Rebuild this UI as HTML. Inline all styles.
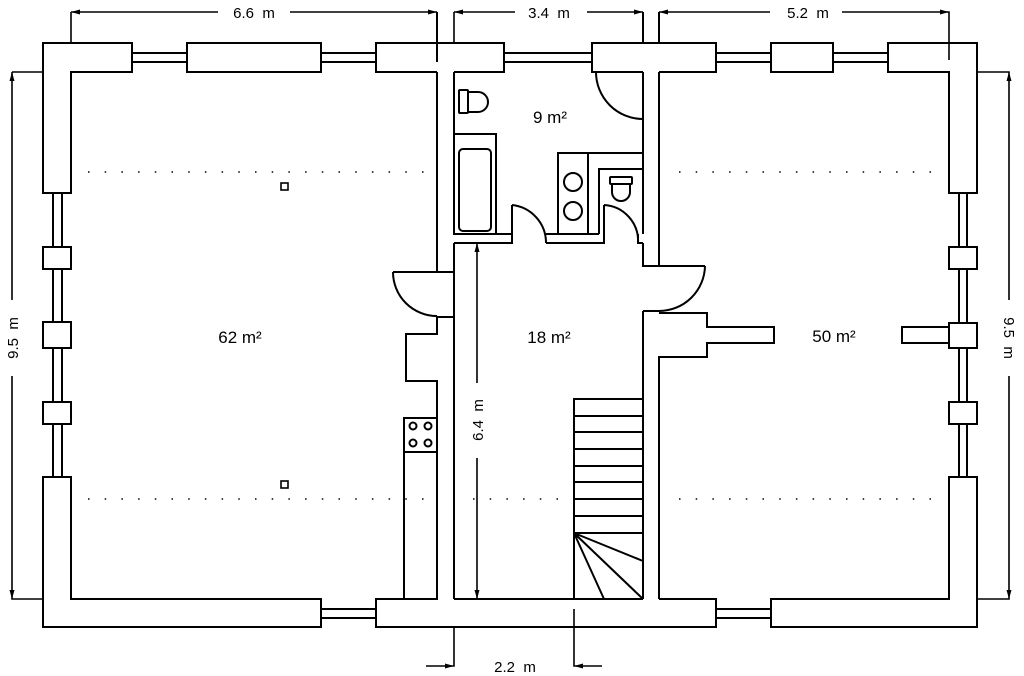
<!DOCTYPE html>
<html><head><meta charset="utf-8"><style>
html,body{margin:0;padding:0;background:#fff;}
svg{display:block;}
text{font-family:"Liberation Sans",sans-serif;fill:#000;white-space:pre;}
</style></head><body>
<svg width="1024" height="676" viewBox="0 0 1024 676" xmlns="http://www.w3.org/2000/svg">
<g fill="none" stroke="#000" stroke-width="2" stroke-linejoin="miter">
<path d="M43,43 H132 V72 H71 V193 H43 Z"/>
<rect x="187" y="43" width="134" height="29"/>
<path d="M437,72 H376 V43 H504 V72 H454"/>
<path d="M643,72 H592 V43 H716 V72 H659"/>
<rect x="771" y="43" width="62" height="29"/>
<path d="M888,43 H977 V193 H949 V72 H888 Z"/>
<path d="M132,53 H187 M132,62 H187 M321,53 H376 M321,62 H376 M504,53 H592 M504,62 H592 M716,53 H771 M716,62 H771 M833,53 H888 M833,62 H888"/>
<rect x="43" y="247" width="28" height="22"/>
<rect x="43" y="322" width="28" height="26"/>
<rect x="43" y="402" width="28" height="22"/>
<path d="M53,193 V247 M62,193 V247 M53,269 V322 M62,269 V322 M53,348 V402 M62,348 V402 M53,424 V477 M62,424 V477"/>
<path d="M71,477 V599 H321 V627 H43 V477 Z"/>
<rect x="949" y="247" width="28" height="22"/>
<rect x="949" y="323" width="28" height="25"/>
<rect x="949" y="402" width="28" height="22"/>
<path d="M959,193 V247 M967,193 V247 M959,269 V323 M967,269 V323 M959,348 V402 M967,348 V402 M959,424 V477 M967,424 V477"/>
<path d="M771,599 H949 V477 H977 V627 H771 Z"/>
<path d="M321,609 H376 M321,618 H376 M716,609 H771 M716,618 H771"/>
<path d="M437,599 H376 V627 H716 V599 H659 M454,599 H643"/>
<path d="M437,12 V62 M437,72 V272 H393 M393,272 A44,44 0 0 0 437,316 M437,272 H454 M437,317 H454 M437,317 V334 H406 V381 H437 V599 M454,72 V234 M454,243 V599"/>
<rect x="404" y="418" width="33" height="181"/>
<line x1="404" y1="452" x2="437" y2="452"/>
<circle cx="413" cy="426" r="3.5"/><circle cx="428" cy="426" r="3.5"/>
<circle cx="413" cy="443" r="3.5"/><circle cx="428" cy="443" r="3.5"/>
<path d="M454,234 H512 M454,243 H512 V205 M512,205 A38,38 0 0 1 546,243 M546,243 H604 V205 M604,205 A36,36 0 0 1 638,243 M546,234 H558 M588,234 H599 M638,234 V243 H643"/>
<rect x="454" y="134" width="42" height="100"/>
<rect x="459" y="149" width="32" height="82" rx="4"/>
<rect x="459" y="90" width="9" height="23" rx="1"/>
<path d="M468,92 H478 A10,10 0 0 1 478,112 H468"/>
<rect x="558" y="153" width="30" height="81"/>
<path d="M588,153 H643"/>
<circle cx="573" cy="182" r="9"/><circle cx="573" cy="211" r="9"/>
<path d="M599,234 V169 H643"/>
<rect x="610" y="177" width="22" height="7" rx="1"/>
<path d="M612,184 V192 A9,9 0 0 0 630,192 V184"/>
<path d="M596,72 A47,47 0 0 0 643,119"/>
<path d="M643,12 V43 M659,12 V43 M643,72 V234 M643,243 V266 H705 M705,266 A46,46 0 0 1 659,311 M659,72 V266 M643,311 V599 M643,311 H659 M659,313 H707 V327 H774 V343 H707 V357 H659 V599"/>
<path d="M949,327 H902 V343 H949"/>
<path d="M574,599 V399 H643 M574,416 H643 M574,432 H643 M574,449 H643 M574,466 H643 M574,482 H643 M574,499 H643 M574,516 H643 M574,533 H643 M574,533 L643,561 M574,533 L643,599 M574,533 L604,599"/>
<rect x="281" y="183" width="7" height="7" stroke-width="1.6"/>
<rect x="281" y="481" width="7" height="7" stroke-width="1.6"/>
<g stroke-width="1.6">
<path d="M71,12 V43 M71,12 H218 M290,12 H437"/>
<path d="M454,12 V43 M454,12 H515 M587,12 H643"/>
<path d="M659,12 H770 M842,12 H949 V60"/>
<path d="M12,72 H43 M12,72 V300 M12,376 V599 H43"/>
<path d="M977,72 H1009 V300 M1009,376 V599 H977"/>
<path d="M477,243 V383 M477,458 V599"/>
<path d="M454,627 V666 H426 M574,609 V666 H602"/>
</g>
</g>
<g fill="#000">
<path d="M71,12 l9,-2.5 v5 z"/><path d="M437,12 l-9,-2.5 v5 z"/>
<path d="M454,12 l9,-2.5 v5 z"/><path d="M643,12 l-9,-2.5 v5 z"/>
<path d="M659,12 l9,-2.5 v5 z"/><path d="M949,12 l-9,-2.5 v5 z"/>
<path d="M12,72 l-2.5,9 h5 z"/><path d="M12,599 l-2.5,-9 h5 z"/>
<path d="M1009,72 l-2.5,9 h5 z"/><path d="M1009,599 l-2.5,-9 h5 z"/>
<path d="M477,243 l-2.5,9 h5 z"/><path d="M477,599 l-2.5,-9 h5 z"/>
<path d="M454,666 l-9,-2.5 v5 z"/><path d="M574,666 l9,-2.5 v5 z"/>
</g>
<g stroke="#000" stroke-width="1.5" stroke-dasharray="1.5 15.2" fill="none">
<path d="M88,172 H425 M679,172 H935 M88,499 H425 M473,499 H560 M679,499 H935"/>
</g>
<g font-size="15">
<text x="254" y="18" text-anchor="middle">6.6&#160;&#160;m</text>
<text x="549" y="18" text-anchor="middle">3.4&#160;&#160;m</text>
<text x="808" y="18" text-anchor="middle">5.2&#160;&#160;m</text>
<text x="515" y="672" text-anchor="middle">2.2&#160;&#160;m</text>
<text transform="translate(18,338) rotate(-90)" text-anchor="middle">9.5&#160;&#160;m</text>
<text transform="translate(1004,338) rotate(90)" text-anchor="middle">9.5&#160;&#160;m</text>
<text transform="translate(483,420) rotate(-90)" text-anchor="middle">6.4&#160;&#160;m</text>
</g>
<g font-size="17">
<text x="240" y="343" text-anchor="middle">62 m²</text>
<text x="550" y="123" text-anchor="middle">9 m²</text>
<text x="549" y="343" text-anchor="middle">18 m²</text>
<text x="834" y="342" text-anchor="middle">50 m²</text>
</g>
</svg>
</body></html>
